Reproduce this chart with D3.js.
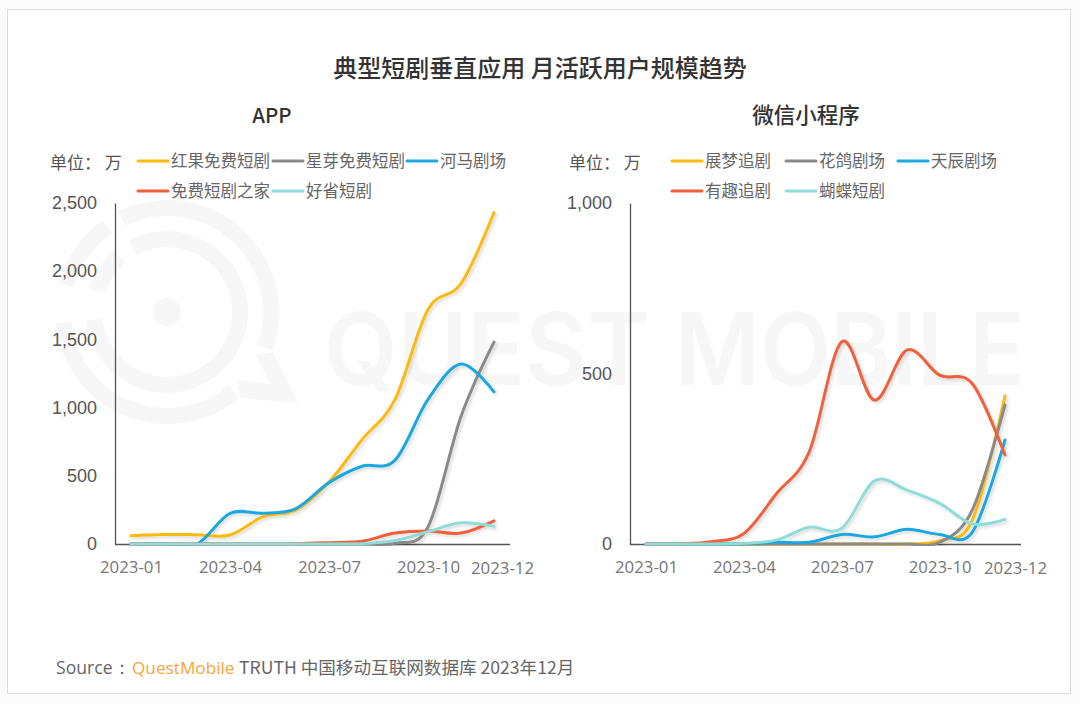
<!DOCTYPE html>
<html>
<head>
<meta charset="utf-8">
<script src="https://cdn.jsdelivr.net/npm/d3@7"></script>
<style>
html, body { margin: 0; padding: 0; background: #fff; }
text { font-family: "Open Sans", "Noto Sans CJK SC", sans-serif; }
.cn { font-family: "Noto Sans CJK SC", sans-serif; }
</style>
</head>
<body>
<svg id="chart" width="1080" height="704"></svg>
<script>
var months = ["2023-01","2023-02","2023-03","2023-04","2023-05","2023-06","2023-07","2023-08","2023-09","2023-10","2023-11","2023-12"];
var tickMonths = ["2023-01","2023-04","2023-07","2023-10","2023-12"];

// APP
var hongguo = [60,70,68,66,200,250,455,765,1060,1720,1910,2430];
var xingya = [0,0,0,0,0,0,0,0,5,125,935,1480];
var hema = [0,0,0,225,225,260,450,570,615,1060,1320,1115];
var mianfei = [0,0,0,0,0,2,10,20,80,95,80,170];
var haosheng = [0,0,0,0,0,0,0,2,25,90,155,130];
var appNames = ["红果免费短剧","星芽免费短剧","河马剧场","免费短剧之家","好省短剧"];
var appTicks = [0,500,1000,1500,2000,2500];

// 微信小程序
var zhanmeng = [0,0,0,0,0,0,0,0,0,10,70,434];
var huage = [0,0,0,0,0,0,0,0,0,5,100,408];
var tianchen = [0,0,0,1,5,5,28,21,43,28,35,305];
var youqu = [0,1,7,31,148,270,593,422,569,495,470,261];
var hudie = [0,0,0,2,12,49,46,185,158,119,59,72];
var wxNames = ["展梦追剧","花鸽剧场","天辰剧场","有趣追剧","蝴蝶短剧"];
var wxTicks = [0,500,1000];

var colors = ["#ffb90f","#8a8a8a","#1ea7e1","#f0603a","#8fdcd8"];

var svg = d3.select("#chart");

svg.append("rect").attr("width",1080).attr("height",704).attr("fill","#fbfbfb");
svg.append("rect").attr("x",7.5).attr("y",9.5).attr("width",1063).attr("height",684)
  .attr("fill","#fff").attr("stroke","#dcdcdc");

// watermark
var wm = svg.append("g").attr("fill","#f7f7f7");
var arc = d3.arc();
var deg = Math.PI / 180;
var ringParts = [
  [96,112,-26,110],[96,112,140,264],[96,112,-75,-35],
  [65,81,-28,264],[65,81,-73,-40]
];
wm.append("circle").attr("cx",167).attr("cy",312).attr("r",14);
ringParts.forEach(function(p){
  wm.append("path").attr("transform","translate(167,312)")
    .attr("d",arc({innerRadius:p[0],outerRadius:p[1],startAngle:p[2]*deg,endAngle:p[3]*deg}));
});
wm.append("polygon").attr("points","273,352 298,403 240,398 237,380 270,384 255,354");
wm.selectAll("text").data([["QUEST",324,326],["MOBILE",675,350]]).enter().append("text")
  .attr("x",function(d){ return d[1]; }).attr("y",385).attr("font-size",100)
  .style("font-family","Inter, sans-serif").attr("font-weight",600)
  .attr("textLength",function(d){ return d[2]; }).attr("lengthAdjust","spacingAndGlyphs")
  .text(function(d){ return d[0]; });

var defs = svg.append("defs");
var shadow = defs.append("filter").attr("id","shadow")
  .attr("x","-10%").attr("y","-10%").attr("width","125%").attr("height","125%");
shadow.append("feDropShadow").attr("dx",2).attr("dy",2).attr("stdDeviation",1.5)
  .attr("flood-color","#000").attr("flood-opacity",0.14);
// smoothing dips a little under zero, the original stays on the axis
defs.append("clipPath").attr("id","plotclip").append("rect")
  .attr("x",0).attr("y",0).attr("width",1080).attr("height",546);

svg.append("text").attr("class","cn").attr("x",540).attr("y",77).attr("text-anchor","middle")
  .attr("font-size",24).attr("font-weight",500).attr("fill","#333")
  .text("典型短剧垂直应用 月活跃用户规模趋势");

function drawPanel(opt) {
  var x = d3.scalePoint().domain(months).range([opt.x0, opt.x1]);
  var y = d3.scaleLinear().domain([0, opt.max]).range([544, 203]);

  svg.append("text").attr("class","cn").attr("x",opt.titleX).attr("y",123).attr("text-anchor","middle")
    .attr("font-size",opt.titleSize).attr("font-weight",500).attr("fill","#333").text(opt.title);

  svg.append("text").attr("class","cn").attr("x",opt.unitX).attr("y",169)
    .attr("font-size",17).attr("fill","#555").text("单位： 万");

  var yAxis = d3.axisLeft(y).tickValues(opt.ticks).tickSize(0).tickPadding(18).tickFormat(d3.format(","));
  var gy = svg.append("g").attr("transform","translate("+opt.axisX+",0)").call(yAxis);
  gy.select(".domain").attr("stroke","#555").attr("stroke-width",1.3);
  gy.selectAll("text").attr("font-size",18).attr("fill","#555").style("font-family","'Liberation Sans', sans-serif");

  var xAxis = d3.axisBottom(x).tickValues(tickMonths).tickSize(0).tickPadding(17);
  var gx = svg.append("g").attr("transform","translate(0,544)").call(xAxis);
  gx.select(".domain").attr("d","M"+opt.axisX+",0.5H"+opt.axisEnd).attr("stroke","#555").attr("stroke-width",1.3);
  gx.selectAll("text").attr("font-size",16.8).attr("fill","#777").style("font-family","'Open Sans', sans-serif");
  // last label sits a bit to the right, like the original
  gx.selectAll("text").filter(function(d){ return d == "2023-12"; })
    .attr("transform","translate("+opt.lastDx+",1)");

  var line = d3.line()
    .x(function(d,i){ return x(months[i]); })
    .y(function(d){ return y(d); })
    .curve(d3.curveCatmullRom.alpha(0));

  svg.append("g").attr("clip-path","url(#plotclip)").append("g").attr("filter","url(#shadow)")
    .selectAll("path")
    .data(opt.series).enter().append("path")
    .attr("d",line)
    .attr("fill","none")
    .attr("stroke",function(d,i){ return colors[i]; })
    .attr("stroke-width",3)
    .attr("stroke-linecap","round");

  // legend
  var lg = svg.append("g");
  opt.names.forEach(function(name,i){
    var row = i < 3 ? 0 : 1;
    var col = i < 3 ? i : i - 3;
    var lx = opt.legendX[col];
    var ly = 161 + row * 30;
    lg.append("line").attr("x1",lx).attr("x2",lx+30).attr("y1",ly).attr("y2",ly)
      .attr("stroke",colors[i]).attr("stroke-width",3).attr("stroke-linecap","round");
    lg.append("text").attr("class","cn").attr("x",lx+33).attr("y",ly+6)
      .attr("font-size",16.5).attr("fill","#666").text(name);
  });
}

drawPanel({
  title:"APP", titleX:272, titleSize:20.5, unitX:50, axisX:115, axisEnd:510, lastDx:8,
  x0:131, x1:494, max:2500, ticks:appTicks, names:appNames, legendX:[138,273,407],
  series:[hongguo,xingya,hema,mianfei,haosheng]
});
drawPanel({
  title:"微信小程序", titleX:806, titleSize:21.5, unitX:569, axisX:630, axisEnd:1021, lastDx:10,
  x0:646, x1:1005, max:1000, ticks:wxTicks, names:wxNames, legendX:[672,786,898],
  series:[zhanmeng,huage,tianchen,youqu,hudie]
});

var src = svg.append("text").attr("class","cn").attr("x",56).attr("y",674).attr("font-size",17.6).attr("fill","#666");
src.append("tspan").style("font-family","'Open Sans', sans-serif").text("Source：");
src.append("tspan").attr("x",132).attr("fill","#f9a63a").attr("font-size",17.2).style("font-family","'Open Sans', sans-serif").text("QuestMobile");
src.append("tspan").attr("x",239).text("TRUTH 中国移动互联网数据库 2023年12月");
</script>
</body>
</html>
